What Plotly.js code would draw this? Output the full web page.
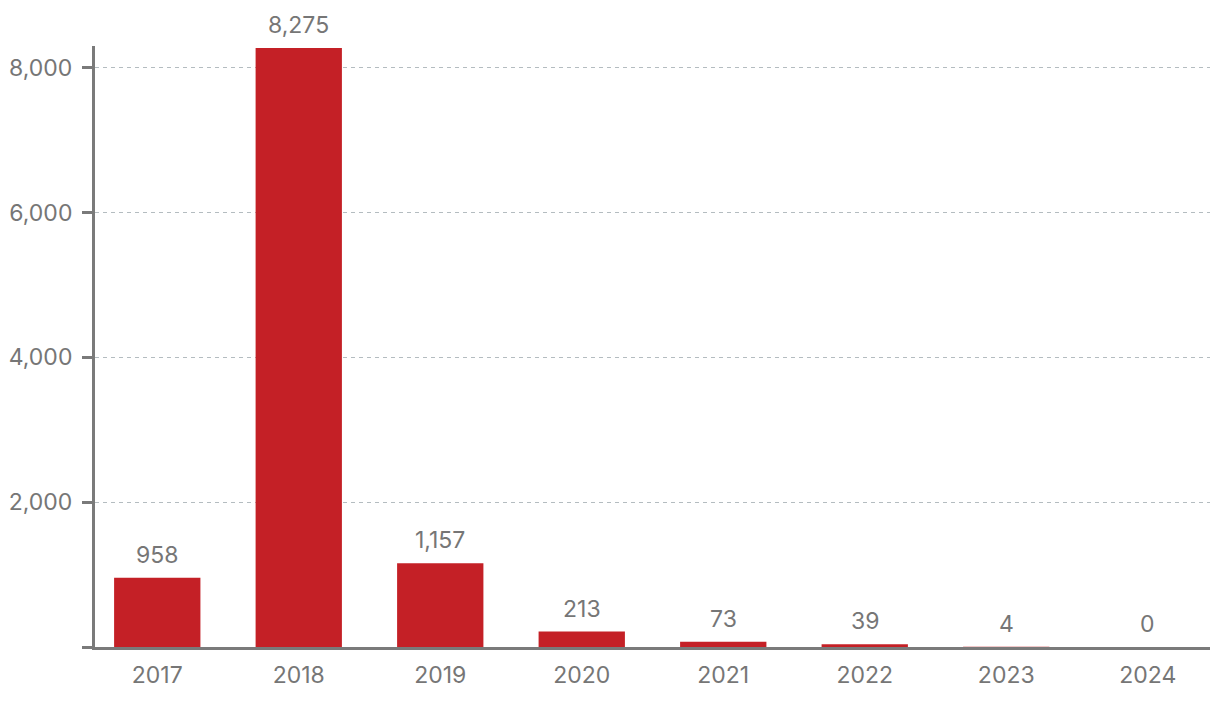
<!DOCTYPE html>
<html>
<head>
<meta charset="utf-8">
<script src="https://cdn.plot.ly/plotly-3.0.1.min.js"></script>
<style>
  html, body { margin: 0; padding: 0; background: #fff; }
  #chart { width: 1220px; height: 702px; }
</style>
</head>
<body>
<div id="chart"></div>
<script>
const years = ["2017", "2018", "2019", "2020", "2021", "2022", "2023", "2024"];
const counts = [958, 8275, 1157, 213, 73, 39, 4, 0];
const yTicks = [0, 2000, 4000, 6000, 8000];
const yTickLabels = ["", "2,000", "4,000", "6,000", "8,000"];

const grey = "#767676";
const fontSize = 23;

const bars = {
  x: years,
  y: counts,
  type: "bar",
  marker: { color: "#c42026" },
  width: 0.61,
  hoverinfo: "skip"
};

// value labels above each bar (x given as category index)
const labels = counts.map((v, i) => ({
  x: i,
  y: v,
  xref: "x",
  yref: "y",
  text: v.toLocaleString("en-US"),
  showarrow: false,
  yanchor: "bottom",
  yshift: 7,
  font: { color: grey, size: fontSize }
}));

const layout = {
  width: 1220,
  height: 702,
  margin: { l: 95, r: 10, t: 46, b: 55 },
  paper_bgcolor: "#fff",
  plot_bgcolor: "#fff",
  font: { family: "Inter, Open Sans, sans-serif", color: grey, size: fontSize },
  showlegend: false,
  annotations: labels,
  xaxis: {
    type: "category",
    range: [-0.44, 7.44],
    showline: true,
    linecolor: "#7a7a7a",
    linewidth: 3,
    ticks: "",
    showgrid: false,
    zeroline: false,
    tickfont: { color: grey, size: fontSize },
    ticklabelstandoff: 5
  },
  yaxis: {
    range: [0, 8302],
    tickvals: yTicks,
    ticktext: yTickLabels,
    showline: true,
    linecolor: "#7a7a7a",
    linewidth: 3,
    ticks: "outside",
    ticklen: 10,
    tickwidth: 3,
    tickcolor: "#7a7a7a",
    showgrid: true,
    gridcolor: "#b4bcc0",
    gridwidth: 1,
    griddash: "4px,4px",
    zeroline: false,
    tickfont: { color: grey, size: fontSize },
    ticklabelstandoff: 5
  }
};

Plotly.newPlot("chart", [bars], layout, { staticPlot: true });
</script>
</body>
</html>
